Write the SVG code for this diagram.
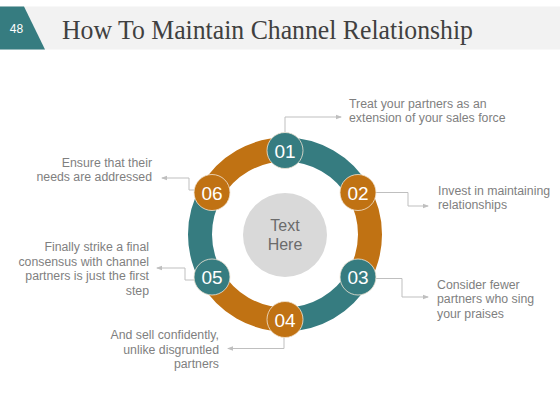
<svg xmlns="http://www.w3.org/2000/svg" width="560" height="420" viewBox="0 0 560 420">
<style>
.lbl{font-family:"Liberation Sans",Arial,sans-serif;font-size:12.3px;fill:#7f7f7f}
.num{font-family:"Liberation Sans",Arial,sans-serif;font-size:19px;fill:#ffffff;text-anchor:middle}
.conn{fill:none;stroke:#bfbfbf;stroke-width:1;marker-end:url(#ah)}
.teal{fill:#367c80}
.orng{fill:#c07213}
.node{stroke:#f2e6d6;stroke-width:0.8}
.seg{fill:none;stroke-width:24}
</style>
<defs>
<marker id="ah" viewBox="0 0 6 6" refX="5" refY="3" markerWidth="6" markerHeight="6" orient="auto" markerUnits="userSpaceOnUse">
<path d="M0,0.8 L6,3 L0,5.2 z" fill="#bfbfbf"/>
</marker>
</defs>
<rect x="0" y="0" width="560" height="420" fill="#ffffff"/>
<g id="header">
<rect x="0" y="6.5" width="560" height="43" fill="#f2f2f2"/>
<polygon points="0,6.5 24,6.5 45,49.5 0,49.5" fill="#367c80"/>
<text x="16.5" y="32.5" font-family="Liberation Sans,Arial,sans-serif" font-size="12" fill="#ffffff" text-anchor="middle">48</text>
<text x="62" y="39" font-family="Liberation Serif,Times New Roman,serif" font-size="26.5" fill="#404040" textLength="411" lengthAdjust="spacingAndGlyphs">How To Maintain Channel Relationship</text>
</g>
<g id="ring">
<path class="seg" stroke="#367c80" d="M285,149.5 A85,85 0 0 1 358.61,192"/>
<path class="seg" stroke="#c07213" d="M358.61,192 A85,85 0 0 1 358.61,277"/>
<path class="seg" stroke="#367c80" d="M358.61,277 A85,85 0 0 1 285,319.5"/>
<path class="seg" stroke="#c07213" d="M285,319.5 A85,85 0 0 1 211.39,277"/>
<path class="seg" stroke="#367c80" d="M211.39,277 A85,85 0 0 1 211.39,192"/>
<path class="seg" stroke="#c07213" d="M211.39,192 A85,85 0 0 1 285,149.5"/>
</g>
<g id="center">
<circle cx="285" cy="235" r="42" fill="#d9d9d9"/>
<text x="285" y="231" font-family="Liberation Sans,Arial,sans-serif" font-size="16" fill="#6b6b6b" text-anchor="middle">Text</text>
<text x="285" y="249.5" font-family="Liberation Sans,Arial,sans-serif" font-size="16" fill="#6b6b6b" text-anchor="middle">Here</text>
</g>
<g id="connectors">
<path class="conn" d="M285,132 V117 H341"/>
<path class="conn" d="M376,192.5 H408 V206 H428"/>
<path class="conn" d="M376,278.5 H402 V297 H428"/>
<path class="conn" d="M284,337 V348.5 H228"/>
<path class="conn" d="M194,280 H185 V268 H157"/>
<path class="conn" d="M194,190 H189 V178 H162"/>
</g>
<g id="n01"><circle class="teal node" cx="285" cy="150.5" r="18"/><text class="num" x="285" y="157.5">01</text></g>
<g id="n02"><circle class="orng node" cx="358" cy="192.5" r="18"/><text class="num" x="358" y="199.5">02</text></g>
<g id="n03"><circle class="teal node" cx="358" cy="277" r="18"/><text class="num" x="358" y="284">03</text></g>
<g id="n04"><circle class="orng node" cx="285" cy="319.5" r="18"/><text class="num" x="285" y="326.5">04</text></g>
<g id="n05"><circle class="teal node" cx="212" cy="277" r="18"/><text class="num" x="212" y="284">05</text></g>
<g id="n06"><circle class="orng node" cx="212" cy="192.5" r="18"/><text class="num" x="212" y="199.5">06</text></g>
<g id="t01"><text class="lbl" x="349" y="108">Treat your partners as an</text><text class="lbl" x="349" y="122">extension of your sales force</text></g>
<g id="t02"><text class="lbl" x="438" y="195">Invest in maintaining</text><text class="lbl" x="438" y="209">relationships</text></g>
<g id="t03"><text class="lbl" x="437" y="289">Consider fewer</text><text class="lbl" x="437" y="303">partners who sing</text><text class="lbl" x="437" y="317.5">your praises</text></g>
<g id="t04" text-anchor="end"><text class="lbl" x="219" y="339">And sell confidently,</text><text class="lbl" x="219" y="353.5">unlike disgruntled</text><text class="lbl" x="219" y="368">partners</text></g>
<g id="t05" text-anchor="end"><text class="lbl" x="149" y="251">Finally strike a final</text><text class="lbl" x="149" y="265.5">consensus with channel</text><text class="lbl" x="149" y="280">partners is just the first</text><text class="lbl" x="149" y="295">step</text></g>
<g id="t06" text-anchor="end"><text class="lbl" x="152" y="167">Ensure that their</text><text class="lbl" x="152" y="181">needs are addressed</text></g>
</svg>
